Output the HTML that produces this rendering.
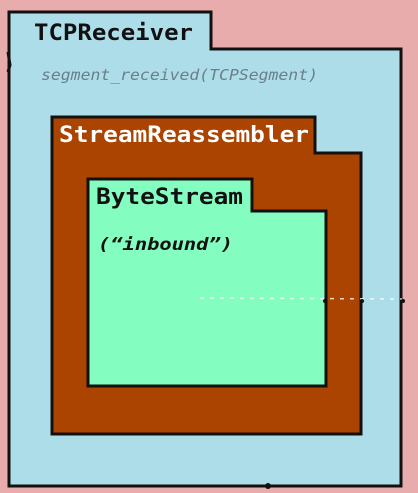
<!DOCTYPE html>
<html><head><style>html,body{margin:0;padding:0;background:#e9acac;}svg{display:block}</style></head>
<body>
<svg width="418" height="493" viewBox="0 0 418 493" xmlns="http://www.w3.org/2000/svg">
<rect width="418" height="493" fill="#e9acac"/>
<polygon points="9,12 211,12 211,49 401,49 401,486 9,486" fill="#addde9" stroke="#111" stroke-width="3"/>
<polygon points="52,117 315,117 315,153 361,153 361,434 52,434" fill="#aa4400" stroke="#111" stroke-width="3"/>
<polygon points="88,179 252,179 252,211 326,211 326,386 88,386" fill="#83fdc0" stroke="#111" stroke-width="3"/>
<g font-family="'DejaVu Sans Mono','Liberation Mono',monospace" font-weight="bold">
<text x="34" y="40" font-size="22" textLength="159" lengthAdjust="spacingAndGlyphs" fill="#111">TCPReceiver</text>
<text x="59" y="142" font-size="22" textLength="250" lengthAdjust="spacingAndGlyphs" fill="#fff">StreamReassembler</text>
<text x="96" y="204" font-size="22" textLength="147" lengthAdjust="spacingAndGlyphs" fill="#111">ByteStream</text>
<text x="98" y="250" font-size="17" font-style="italic" textLength="135" lengthAdjust="spacingAndGlyphs" fill="#111">(“inbound”)</text>
</g>
<text x="41" y="80" font-family="'DejaVu Sans Mono','Liberation Mono',monospace" font-style="italic" font-size="15" textLength="277" lengthAdjust="spacingAndGlyphs" fill="#6a7f88">segment_received(TCPSegment)</text>
<line x1="200" y1="298" x2="402" y2="299" stroke="#fff" stroke-width="1.5" stroke-dasharray="4,6" opacity="0.8"/>
<circle cx="325" cy="301" r="2" fill="#111"/><circle cx="362" cy="301" r="2" fill="#111"/><circle cx="403" cy="301" r="2" fill="#111"/>
<path d="M8,52 L10,65 L8,72" stroke="#111" stroke-width="3" fill="none"/>
<circle cx="268" cy="486" r="3" fill="#111"/>
</svg>
</body></html>
